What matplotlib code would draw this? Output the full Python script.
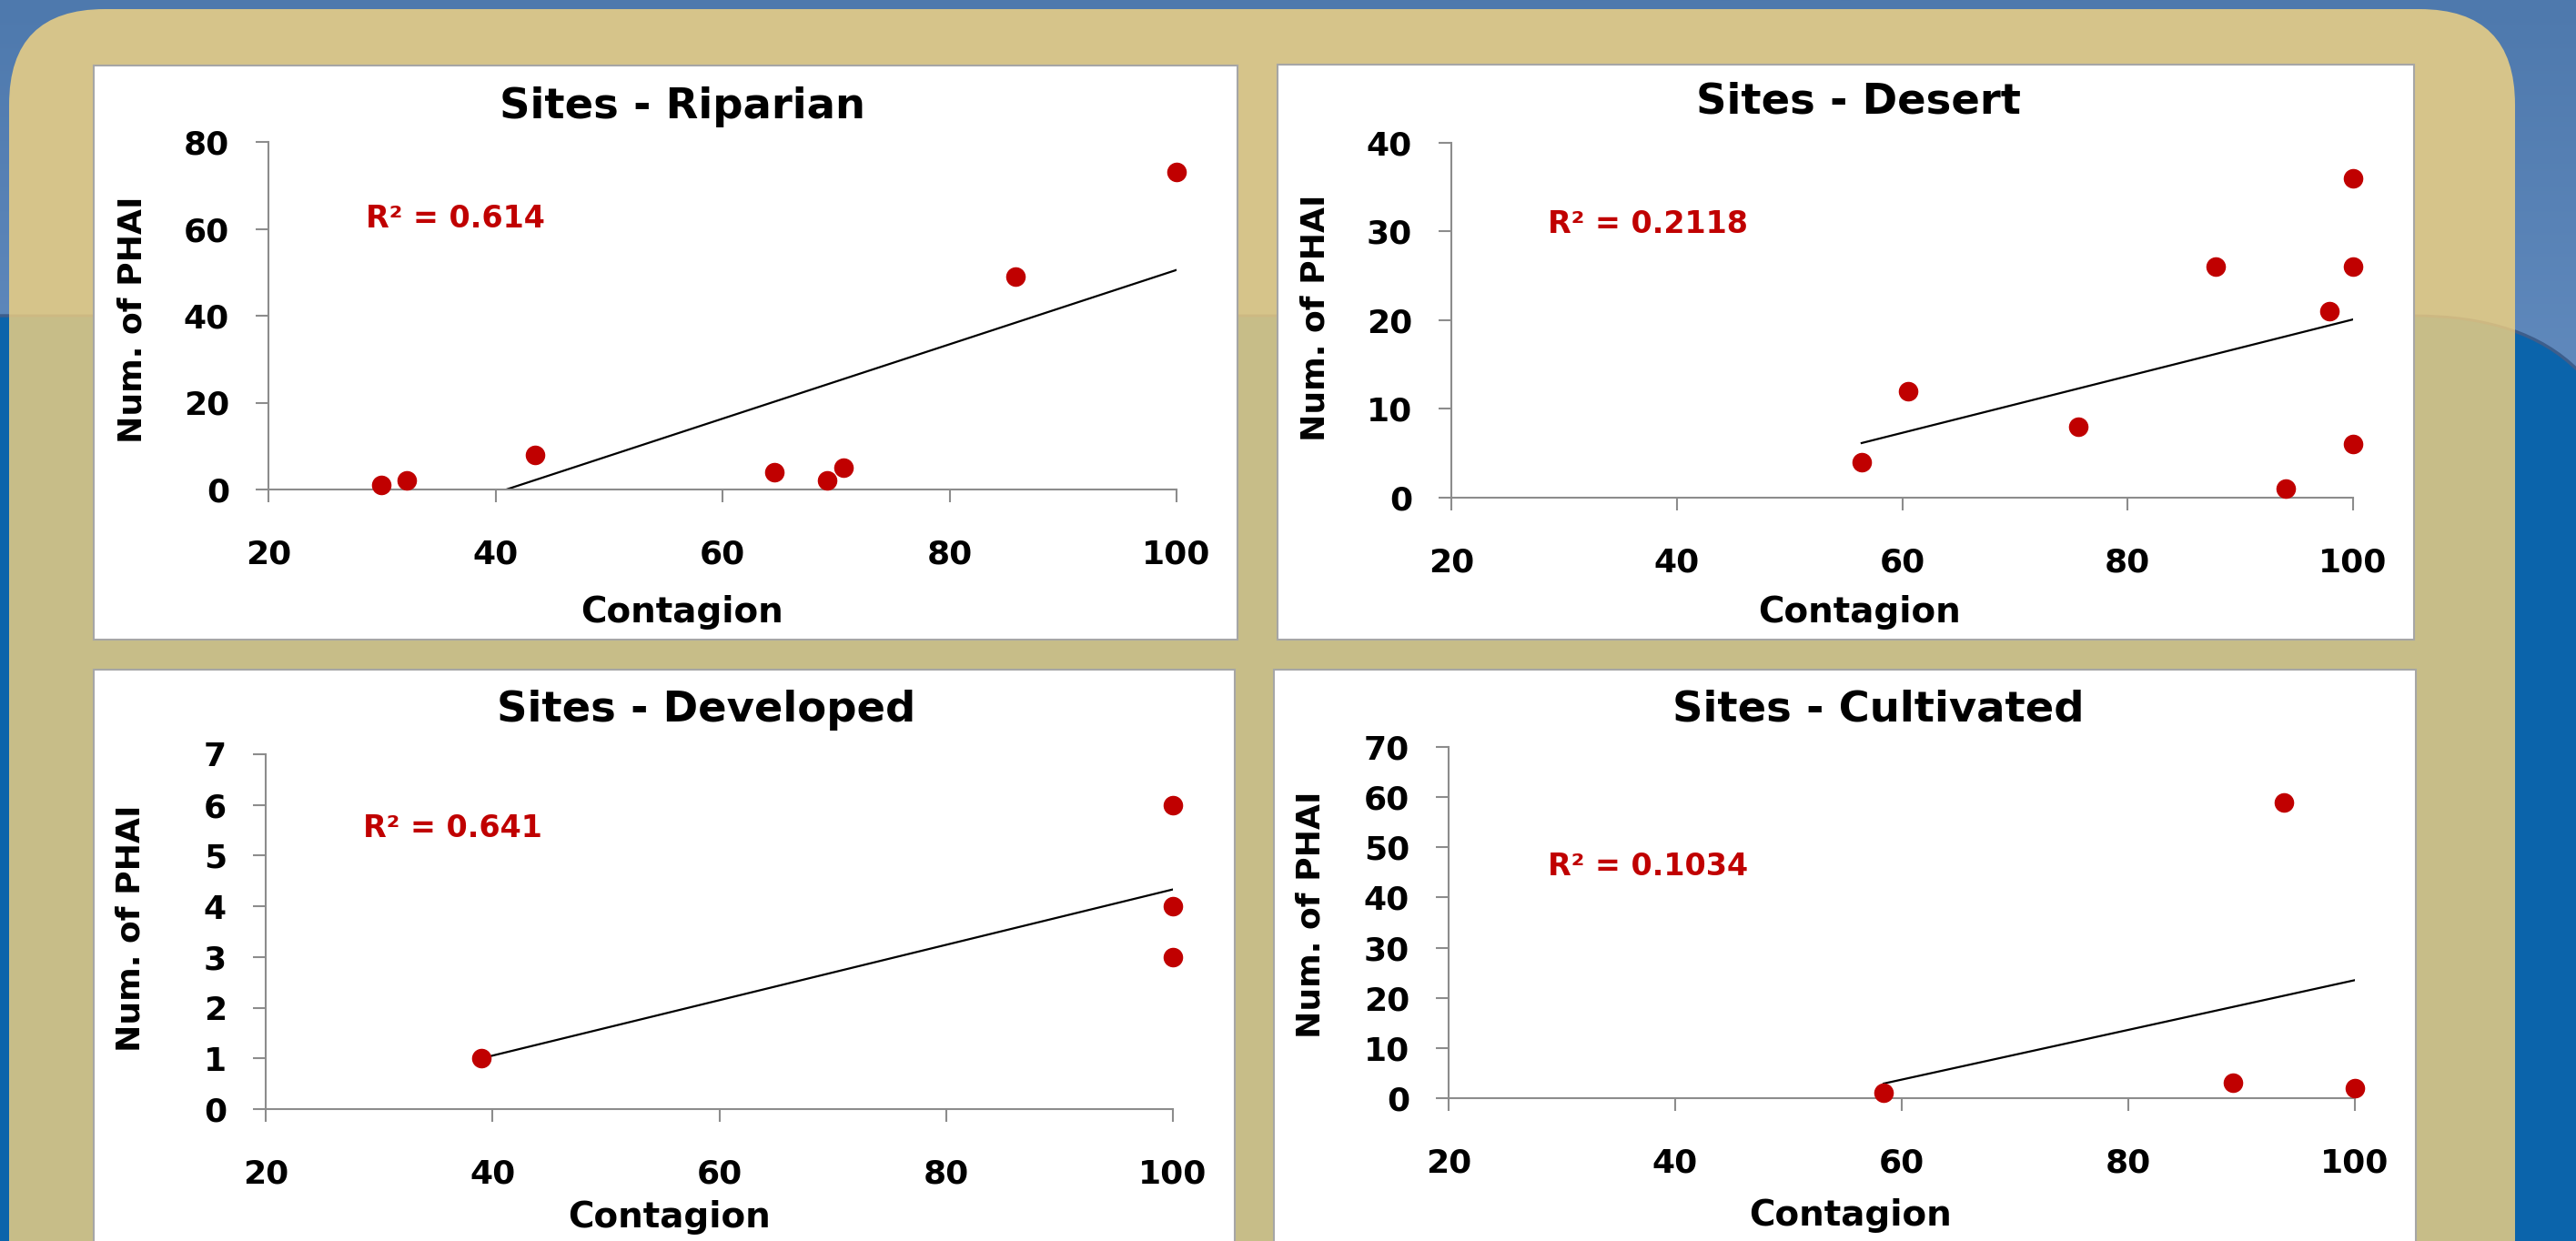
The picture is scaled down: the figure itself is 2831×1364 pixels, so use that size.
import numpy as np
import matplotlib.pyplot as plt
from matplotlib.patches import FancyBboxPatch, Rectangle
from matplotlib.colors import LinearSegmentedColormap

W, H = 2831, 1364
DPI = 100

# ==============================
# DATA
# ==============================

titles = ["Sites - Riparian", "Sites - Desert", "Sites - Developed", "Sites - Cultivated"]
r2_labels = ["R² = 0.614", "R² = 0.2118", "R² = 0.641", "R² = 0.1034"]
x_ticks = [20, 40, 60, 80, 100]
y_max = [80, 40, 7, 70]
y_step = [20, 10, 1, 10]

riparian_x = [29.9, 32.2, 43.5, 64.6, 69.2, 70.7, 85.8, 100]
riparian_y = [1, 2, 8, 4, 2, 5, 49, 73]

desert_x = [56.4, 60.5, 75.6, 87.8, 94.0, 97.9, 100, 100, 100]
desert_y = [4, 12, 8, 26, 1, 21, 36, 26, 6]

developed_x = [39.0, 100, 100, 100]
developed_y = [1, 6, 4, 3]

cultivated_x = [58.4, 89.2, 93.7, 100]
cultivated_y = [1, 3, 59, 2]

series = [(riparian_x, riparian_y), (desert_x, desert_y),
          (developed_x, developed_y), (cultivated_x, cultivated_y)]

# ==============================
# LAYOUT (pixels)
# ==============================

boxes = [(103, 72, 1360, 703), (1404, 71, 2653, 703),
         (103, 736, 1357, 1420), (1400, 736, 2655, 1420)]
# x at 20, x at 100, y at 0, y at max
axes_px = [(295, 1293, 538, 156), (1595, 2586, 547, 157),
           (292, 1289, 1219, 829), (1592, 2588, 1207, 821)]
title_pos = [(750, 117), (2043, 112), (776, 780), (2064, 780)]
xlabel_pos = [(750, 673), (2043, 673), (735, 1338), (2034, 1336)]
ylabel_pos = [(145, 351), (1446, 349), (143, 1020), (1441, 1005)]
r2_pos = [(402, 241), (1701, 246), (399, 911), (1701, 952)]

RED = "#c00000"
AXIS_GRAY = "#8c8c8c"

plt.rcParams["font.family"] = "DejaVu Sans"
plt.rcParams["font.weight"] = "bold"

fig = plt.figure(figsize=(W / DPI, H / DPI), dpi=DPI)


def fx(px):
    return px / W


def fy(py):
    return 1 - py / H


# ==============================
# BACKGROUND
# ==============================

bg = fig.add_axes([0, 0, 1, 1], zorder=-10)
grad = np.linspace(0, 1, 256).reshape(-1, 1)
sky = LinearSegmentedColormap.from_list("sky", ["#4e79ad", "#6d95c8"])
bg.imshow(grad, cmap=sky, extent=(0, W, 720, 0), aspect="auto")
bg.add_patch(Rectangle((0, 700), W, H, color="#6d95c8"))

R = 240
lower = FancyBboxPatch((-400, 347), 2653 + R + 400, H + 400,
                       boxstyle=f"round,pad=0,rounding_size={R}",
                       fc="#0b64ab", ec="#3d5e8c", lw=2.5)
bg.add_patch(lower)

panel = FancyBboxPatch((10, 10), 2754, H + 300,
                       boxstyle="round,pad=0,rounding_size=105",
                       fc="#d6c48a", ec="none")
bg.add_patch(panel)

lower_tan = FancyBboxPatch((-400, 347), 2653 + R + 400, H + 400,
                           boxstyle=f"round,pad=0,rounding_size={R}",
                           fc="#c7bd88", ec="#cdb882", lw=2)
bg.add_patch(lower_tan)
lower_tan.set_clip_path(panel)

for (x0, y0, x1, y1) in boxes:
    bg.add_patch(Rectangle((x0, y0), x1 - x0, y1 - y0, fc="white",
                           ec="#a6a6a6", lw=1.5))

bg.set_xlim(0, W)
bg.set_ylim(H, 0)
bg.axis("off")

# ==============================
# CHARTS
# ==============================

for i, (xs, ys) in enumerate(series):
    x20, x100, y0, ytop = axes_px[i]
    ax = fig.add_axes([fx(x20), fy(y0), (x100 - x20) / W, (y0 - ytop) / H])
    ax.set_facecolor("none")

    ax.set_xlim(20, 100)
    ax.set_ylim(0, y_max[i])
    ax.set_xticks(x_ticks)
    ax.set_yticks(np.arange(0, y_max[i] + 1, y_step[i]))

    for side in ["top", "right"]:
        ax.spines[side].set_visible(False)
    for side in ["left", "bottom"]:
        ax.spines[side].set_color(AXIS_GRAY)
        ax.spines[side].set_linewidth(1.5)

    ax.tick_params(direction="out", length=10, width=1.5, color=AXIS_GRAY,
                   labelsize=26)
    ax.tick_params(axis="x", pad=29)
    ax.tick_params(axis="y", pad=21)

    # linear trendline over the data range
    m, b = np.polyfit(xs, ys, 1)
    xr = np.array([min(xs), max(xs)])
    ax.plot(xr, m * xr + b, color="black", lw=1.6, zorder=2)

    ax.plot(xs, ys, "o", color=RED, ms=14.5, clip_on=False, zorder=3)

    tx, ty = title_pos[i]
    fig.text(fx(tx), fy(ty), titles[i], ha="center", va="center", fontsize=33.5)
    lx, ly = xlabel_pos[i]
    fig.text(fx(lx), fy(ly), "Contagion", ha="center", va="center", fontsize=28)
    vx, vy = ylabel_pos[i]
    fig.text(fx(vx), fy(vy), "Num. of PHAI", ha="center", va="center",
             rotation=90, fontsize=26)
    rx, ry = r2_pos[i]
    fig.text(fx(rx), fy(ry), r2_labels[i], ha="left", va="center",
             fontsize=24, color=RED)

fig.savefig("out.png", dpi=DPI)
